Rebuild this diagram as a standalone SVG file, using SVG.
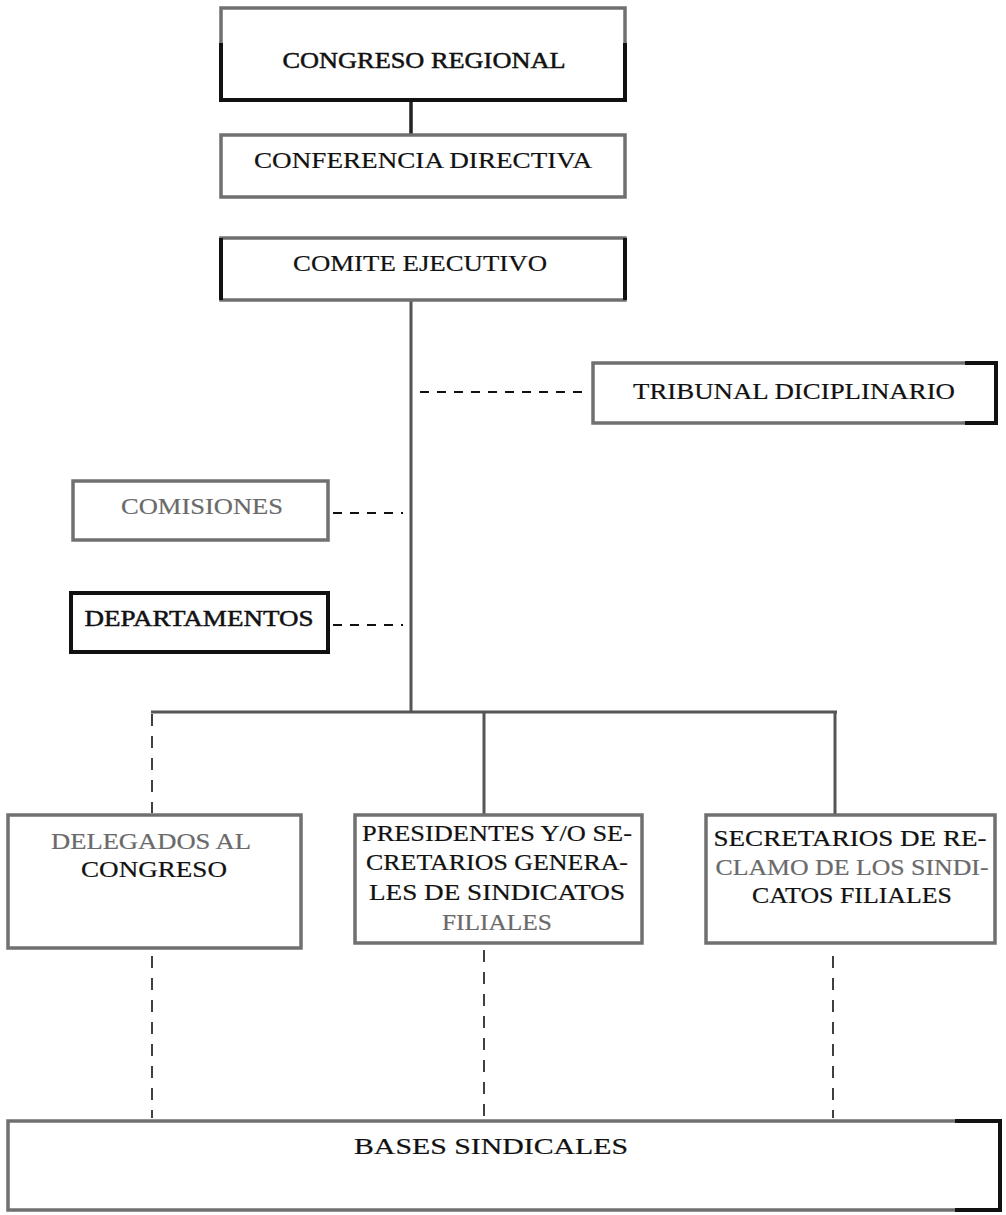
<svg xmlns="http://www.w3.org/2000/svg" width="1006" height="1215" viewBox="0 0 1006 1215">
<defs>
<style>
.box{fill:#fff;stroke:#707070;stroke-width:3.5}
.blk{fill:none;stroke:#111;stroke-width:4}
.t{font-family:"Liberation Serif","DejaVu Serif",serif;font-size:24px;fill:#111;text-anchor:middle;stroke:#111;stroke-width:0.2}
.s{font-size:23px}
.b{stroke-width:0.5}
.g{fill:#6a6a6a;stroke:#6a6a6a}
.solid{stroke:#555;stroke-width:3;fill:none}
.dash{stroke:#111;stroke-width:2;fill:none;stroke-dasharray:9 8}
.vdash{stroke:#111;stroke-width:1.6;fill:none;stroke-dasharray:12 10}
</style>
</defs>
<rect width="1006" height="1215" fill="#fff"/>
<g id="connectors">
<line x1="411" y1="100" x2="411" y2="135" stroke="#222" stroke-width="3.5"/>
<line class="solid" x1="411" y1="300" x2="411" y2="713"/>
<line class="dash" x1="420" y1="392" x2="590" y2="392"/>
<line class="dash" x1="333" y1="513" x2="403" y2="513"/>
<line class="dash" x1="333" y1="625" x2="403" y2="625"/>
<line class="solid" x1="151" y1="712" x2="837" y2="712"/>
<line class="vdash" x1="152" y1="714" x2="152" y2="813"/>
<line class="solid" x1="484" y1="712" x2="484" y2="815"/>
<line class="solid" x1="835" y1="712" x2="835" y2="815"/>
<line class="vdash" x1="152" y1="956" x2="152" y2="1118"/>
<line class="vdash" x1="484" y1="950" x2="484" y2="1118"/>
<line class="vdash" x1="833" y1="956" x2="833" y2="1118"/>
</g>
<g id="congreso-regional">
<rect class="box" x="221" y="8" width="404" height="92"/>
<path class="blk" d="M221 43V100H625V43"/>
<text class="t b" x="424" y="68" font-size="26" textLength="283" lengthAdjust="spacingAndGlyphs">CONGRESO REGIONAL</text>
</g>
<g id="conferencia-directiva">
<rect class="box" x="221" y="135" width="404" height="62"/>
<text class="t" x="423" y="168" textLength="338" lengthAdjust="spacingAndGlyphs">CONFERENCIA DIRECTIVA</text>
</g>
<g id="comite-ejecutivo">
<rect class="box" x="221" y="238" width="404" height="62"/>
<path class="blk" d="M221 238V300M625 238V300"/>
<text class="t" x="420" y="271" textLength="254" lengthAdjust="spacingAndGlyphs">COMITE EJECUTIVO</text>
</g>
<g id="tribunal-diciplinario">
<rect class="box" x="593" y="363" width="403" height="60"/>
<path class="blk" d="M965 363H996V423H965"/>
<text class="t" x="794" y="399" textLength="322" lengthAdjust="spacingAndGlyphs">TRIBUNAL DICIPLINARIO</text>
</g>
<g id="comisiones">
<rect class="box" x="73" y="481" width="255" height="59"/>
<text class="t g" x="202" y="514" textLength="162" lengthAdjust="spacingAndGlyphs">COMISIONES</text>
</g>
<g id="departamentos">
<rect class="box" x="71" y="593" width="257" height="59" style="stroke:#111;stroke-width:4"/>
<text class="t b" x="199" y="626" textLength="229" lengthAdjust="spacingAndGlyphs">DEPARTAMENTOS</text>
</g>
<g id="delegados-al-congreso">
<rect class="box" x="8" y="815" width="293" height="133"/>
<text class="t s g" x="151" y="849" textLength="200" lengthAdjust="spacingAndGlyphs">DELEGADOS AL</text>
<text class="t s" x="154" y="877" textLength="146" lengthAdjust="spacingAndGlyphs">CONGRESO</text>
</g>
<g id="presidentes">
<rect class="box" x="355" y="815" width="287" height="128"/>
<text class="t s" x="497" y="841" textLength="270" lengthAdjust="spacingAndGlyphs">PRESIDENTES Y/O SE-</text>
<text class="t s" x="497" y="870" textLength="262" lengthAdjust="spacingAndGlyphs">CRETARIOS GENERA-</text>
<text class="t s" x="497" y="900" textLength="256" lengthAdjust="spacingAndGlyphs">LES DE SINDICATOS</text>
<text class="t s g" x="497" y="930" textLength="110" lengthAdjust="spacingAndGlyphs">FILIALES</text>
</g>
<g id="secretarios-de-reclamo">
<rect class="box" x="706" y="815" width="289" height="128"/>
<text class="t s" x="850" y="846" textLength="273" lengthAdjust="spacingAndGlyphs">SECRETARIOS DE RE-</text>
<text class="t s g" x="852" y="875" textLength="273" lengthAdjust="spacingAndGlyphs">CLAMO DE LOS SINDI-</text>
<text class="t s" x="852" y="903" textLength="200" lengthAdjust="spacingAndGlyphs">CATOS FILIALES</text>
</g>
<g id="bases-sindicales">
<rect class="box" x="8" y="1121" width="992" height="89"/>
<path class="blk" d="M955 1121H1000V1210H955"/>
<text class="t s" x="491" y="1154" textLength="274" lengthAdjust="spacingAndGlyphs">BASES SINDICALES</text>
</g>
</svg>
